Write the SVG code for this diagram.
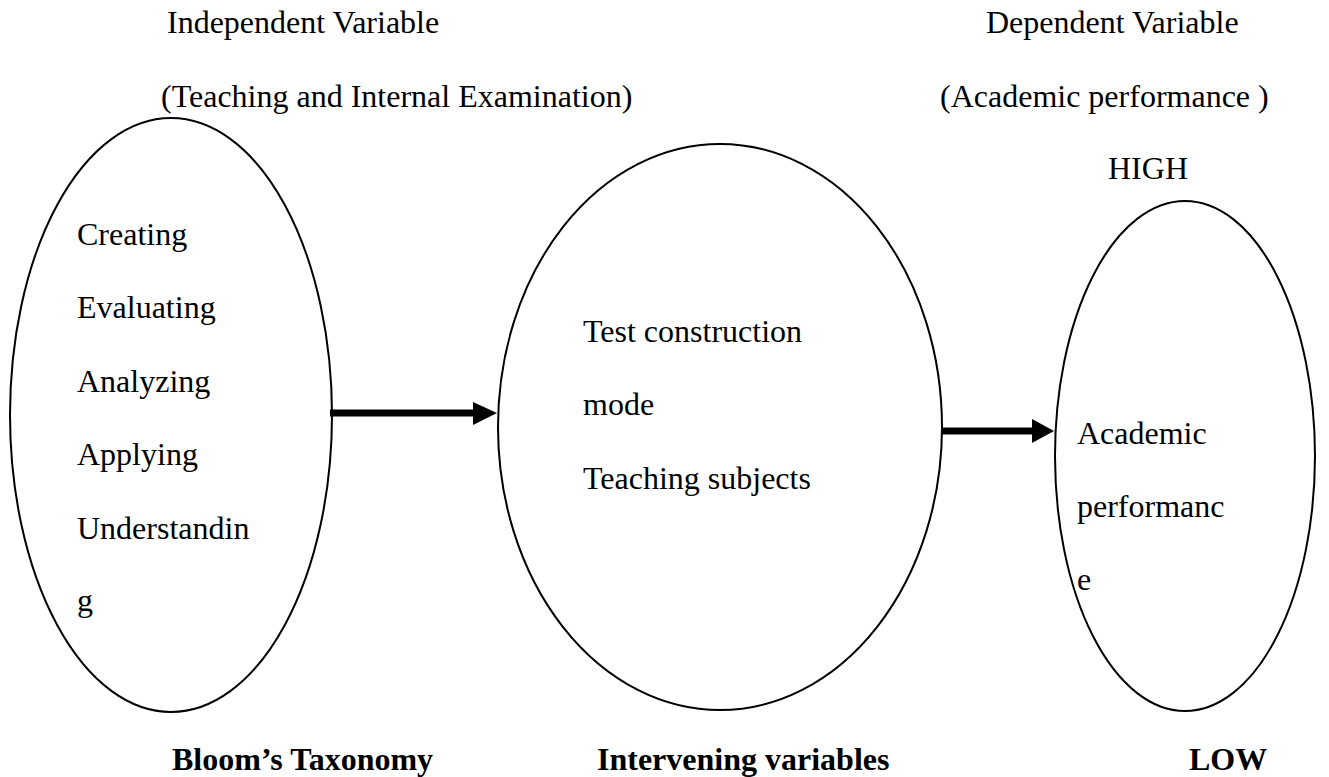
<svg xmlns="http://www.w3.org/2000/svg" width="1329" height="777" viewBox="0 0 1329 777">
<style>
  .t { font-family: "Liberation Serif", "Times New Roman", serif; font-size: 32px; fill: #000; }
  .b { font-family: "Liberation Serif", "Times New Roman", serif; font-size: 32px; font-weight: bold; fill: #000; }
  .node { fill: none; stroke: #000; stroke-width: 2; }
  .shaft { stroke: #000; stroke-width: 7; fill: none; }
  .head { fill: #000; stroke: none; }
</style>
<rect width="1329" height="777" fill="#fff"/>
<g id="headings">
  <text class="t" x="167" y="33">Independent Variable</text>
  <text class="t" x="161" y="107">(Teaching and Internal Examination)</text>
  <text class="t" x="986" y="33">Dependent Variable</text>
  <text class="t" x="940" y="107">(Academic performance )</text>
</g>
<g id="node-bloom">
  <ellipse class="node" cx="171" cy="415" rx="161" ry="297"/>
  <text class="t" x="77" y="245">Creating</text>
  <text class="t" x="77" y="318">Evaluating</text>
  <text class="t" x="77" y="392">Analyzing</text>
  <text class="t" x="77" y="465">Applying</text>
  <text class="t" x="77" y="539">Understandin</text>
  <text class="t" x="77" y="611">g</text>
  <text class="b" x="172" y="770">Bloom’s Taxonomy</text>
</g>
<g id="node-intervening">
  <ellipse class="node" cx="720" cy="427" rx="222" ry="283"/>
  <text class="t" x="583" y="342">Test construction</text>
  <text class="t" x="583" y="415">mode</text>
  <text class="t" x="583" y="489">Teaching subjects</text>
  <text class="b" x="597" y="770">Intervening variables</text>
</g>
<g id="node-academic">
  <ellipse class="node" cx="1185" cy="456" rx="130" ry="255"/>
  <text class="t" x="1108" y="179">HIGH</text>
  <text class="t" x="1077" y="444">Academic</text>
  <text class="t" x="1077" y="517">performanc</text>
  <text class="t" x="1077" y="590">e</text>
  <text class="b" x="1189" y="770">LOW</text>
</g>
<g id="connectors">
  <line class="shaft" x1="330" y1="413" x2="474" y2="413"/>
  <polygon class="head" points="473,402 497,413 473,425"/>
  <line class="shaft" x1="942" y1="431" x2="1033" y2="431"/>
  <polygon class="head" points="1032,419 1054,431 1032,443"/>
</g>
</svg>
